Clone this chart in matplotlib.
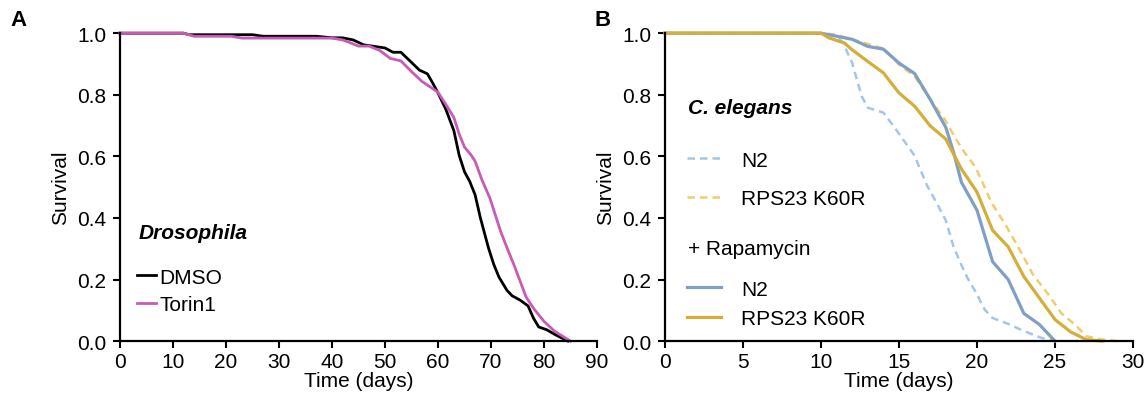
import matplotlib
matplotlib.use("Agg")
import matplotlib.pyplot as plt
import numpy as np

plt.rcParams['font.family'] = ['Liberation Sans', 'DejaVu Sans']

# ---- data ----
# A: Drosophila
dmso_t = [0, 12, 13, 25, 27, 37, 40, 42, 44, 46, 48, 50, 51.5, 53, 55, 56.5, 58, 59, 60,
          61.5, 63, 64, 65, 66, 67, 68, 69.5, 70.5, 71.5, 73, 74, 75.5, 77, 78, 79, 80.5, 82, 84.5]
dmso_s = [1.0, 1.0, 0.995, 0.995, 0.99, 0.99, 0.985, 0.985, 0.978, 0.962, 0.957, 0.952, 0.938,
          0.938, 0.905, 0.88, 0.868, 0.838, 0.806, 0.752, 0.683, 0.603, 0.55, 0.518, 0.475, 0.40,
          0.304, 0.25, 0.208, 0.165, 0.147, 0.133, 0.114, 0.075, 0.046, 0.037, 0.022, 0.0]
torin_t = [0, 12, 14, 21, 23, 40, 42, 43, 45, 47, 49, 51, 53, 55, 57, 59, 60, 61.5, 63, 64, 65,
           66.3, 67, 68.3, 69.8, 71.8, 73, 74.5, 76.6, 78, 80, 82, 85]
torin_s = [1.0, 1.0, 0.99, 0.99, 0.984, 0.984, 0.978, 0.972, 0.958, 0.958, 0.944, 0.918, 0.91,
           0.875, 0.843, 0.82, 0.808, 0.768, 0.726, 0.672, 0.63, 0.603, 0.584, 0.523, 0.464,
           0.357, 0.304, 0.24, 0.144, 0.107, 0.064, 0.032, 0.0]

# B: C. elegans
n2_t = [0, 10, 11, 11.4, 12, 12.6, 13, 14, 14.8, 15.4, 16, 16.8, 17.4, 18, 18.5, 19, 19.4,
        19.9, 20.5, 21, 22, 22.9, 24.1, 25]
n2_s = [1.0, 1.0, 0.99, 0.97, 0.903, 0.796, 0.758, 0.742, 0.688, 0.645, 0.602, 0.505, 0.45,
        0.392, 0.306, 0.247, 0.204, 0.161, 0.102, 0.075, 0.056, 0.035, 0.011, 0.0]
rps_t = [0, 10, 11, 13, 14, 15, 16, 17, 18, 18.6, 19.2, 19.9, 20.4, 20.9, 21.8, 22.7, 23.6,
         24.6, 25.4, 26.4, 27, 28, 29]
rps_s = [1.0, 1.0, 0.995, 0.965, 0.95, 0.898, 0.86, 0.785, 0.715, 0.66, 0.613, 0.565, 0.51,
         0.452, 0.38, 0.30, 0.215, 0.15, 0.091, 0.048, 0.016, 0.005, 0.0]
n2_rapa_t = [0, 10, 11, 12, 13, 14, 15, 16, 17, 18, 18.5, 19, 20, 21, 22, 23, 24, 25]
n2_rapa_s = [1.0, 1.0, 0.99, 0.98, 0.957, 0.948, 0.903, 0.869, 0.785, 0.694, 0.613, 0.516,
             0.425, 0.258, 0.2, 0.09, 0.054, 0.0]
rps_rapa_t = [0, 10, 10.5, 11.5, 12, 13, 14, 15, 16, 17, 18, 19, 20, 21, 22, 23, 24, 25, 26, 27, 28]
rps_rapa_s = [1.0, 1.0, 0.985, 0.968, 0.946, 0.908, 0.871, 0.806, 0.763, 0.699, 0.656, 0.559,
              0.484, 0.36, 0.306, 0.21, 0.14, 0.07, 0.03, 0.005, 0.0]

MAGENTA = '#c75bb5'
LBLUE = '#a3c6ea'
SBLUE = '#7f9fc6'
GOLD = '#d3ae3a'
LGOLD = '#f0cd6c'
FS = 15

fig = plt.figure(figsize=(11.45, 4.02), dpi=100)
axA = fig.add_axes([0.1048, 0.149, 0.4166, 0.766])
axB = fig.add_axes([0.5808, 0.149, 0.4087, 0.766])


def style(ax, xmax, xstep):
    ax.set_xlim(0, xmax)
    ax.set_ylim(0, 1)
    ax.set_xticks(np.arange(0, xmax + 1, xstep))
    ax.set_yticks(np.arange(0, 1.01, 0.2))
    ax.set_yticklabels([f"{v:.1f}" for v in np.arange(0, 1.01, 0.2)])
    for s in ['top', 'right']:
        ax.spines[s].set_visible(False)
    for s in ['left', 'bottom']:
        ax.spines[s].set_linewidth(1.6)
    ax.tick_params(direction='out', length=5, width=1.5, labelsize=FS)
    ax.tick_params(axis='y', pad=5)
    ax.tick_params(axis='x', pad=3)
    ax.set_xlabel('Time (days)', fontsize=FS, labelpad=0)
    ax.set_ylabel('Survival', fontsize=FS, labelpad=5)


# ---- panel A ----
axA.plot(dmso_t, dmso_s, color='black', lw=2, clip_on=False, label='DMSO')
axA.plot(torin_t, torin_s, color=MAGENTA, lw=2, clip_on=False, label='Torin1')
style(axA, 90, 10)
axA.text(0.04, 0.354, 'Drosophila', transform=axA.transAxes, fontsize=FS,
         fontweight='bold', fontstyle='italic', va='center')
axA.legend(loc='upper left', bbox_to_anchor=(0.035, 0.2386), frameon=False, fontsize=FS,
           handlelength=0.95, handletextpad=0.15, labelspacing=0.42, borderpad=0,
           borderaxespad=0)

# ---- panel B ----
l1, = axB.plot(n2_t, n2_s, color=LBLUE, lw=1.8, ls=(0, (3, 2)), clip_on=False)
l2, = axB.plot(rps_t, rps_s, color=LGOLD, lw=1.8, ls=(0, (3, 2)), clip_on=False)
l3, = axB.plot(n2_rapa_t, n2_rapa_s, color=SBLUE, lw=2.3, clip_on=False)
l4, = axB.plot(rps_rapa_t, rps_rapa_s, color=GOLD, lw=2.3, clip_on=False)
style(axB, 30, 5)
axB.text(0.05, 0.76, 'C. elegans', transform=axB.transAxes, fontsize=FS,
         fontweight='bold', fontstyle='italic', va='center')
axB.text(0.05, 0.302, '+ Rapamycin', transform=axB.transAxes, fontsize=FS, va='center')
legB1 = axB.legend([l1, l2], ['N2', 'RPS23 K60R'], loc='upper left',
                   bbox_to_anchor=(0.047, 0.6185), frameon=False, fontsize=FS,
                   handlelength=1.64, handletextpad=0.95, labelspacing=0.92, borderpad=0,
                   borderaxespad=0)
axB.add_artist(legB1)
axB.legend([l3, l4], ['N2', 'RPS23 K60R'], loc='upper left',
           bbox_to_anchor=(0.047, 0.1997), frameon=False, fontsize=FS,
           handlelength=1.64, handletextpad=0.95, labelspacing=0.52, borderpad=0,
           borderaxespad=0)

fig.text(0.009, 0.95, 'A', fontsize=16, fontweight='bold', va='center')
fig.text(0.519, 0.95, 'B', fontsize=16, fontweight='bold', va='center')

fig.savefig('out.png', dpi=100)
